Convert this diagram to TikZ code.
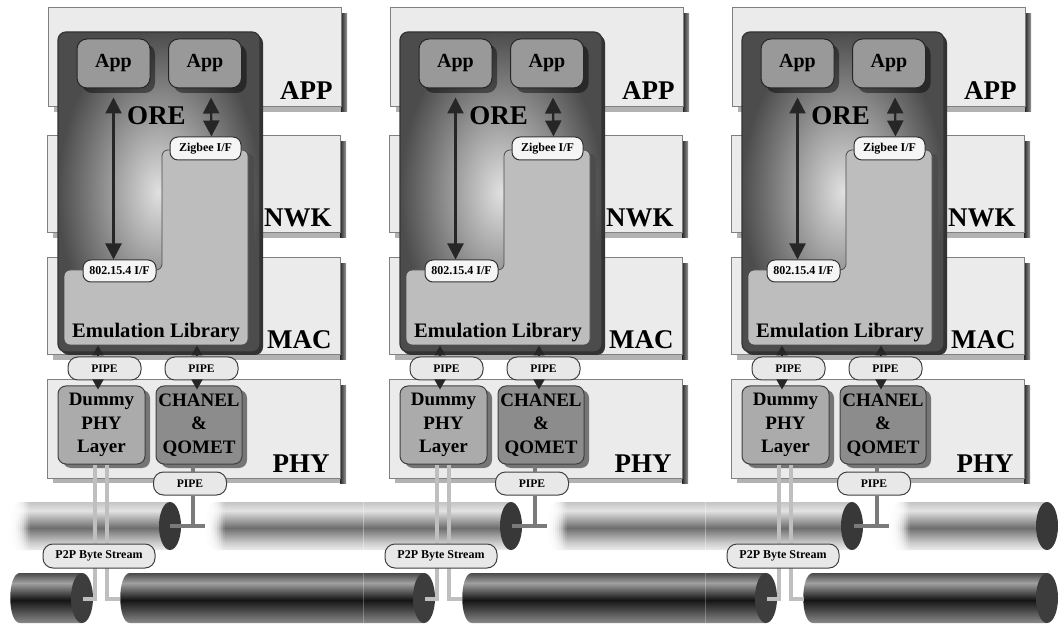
\documentclass[tikz,border=0pt]{standalone}
\usepackage{fontspec}
\setmainfont{Liberation Serif}
\usetikzlibrary{arrows.meta,shadows,calc}
\definecolor{uA}{gray}{0.93}
\definecolor{uB}{gray}{0.79}
\definecolor{uC}{gray}{0.43}
\definecolor{uD}{gray}{0.89}
\definecolor{uE}{gray}{0.77}
\definecolor{dA}{gray}{0.54}
\definecolor{dB}{gray}{0.38}
\definecolor{dC}{gray}{0.08}
\definecolor{dD}{gray}{0.63}
\definecolor{dE}{gray}{0.29}
\pgfdeclareverticalshading{upcyl}{100bp}{color(0bp)=(uA); color(25bp)=(uA); color(33bp)=(uB); color(48bp)=(uC); color(66bp)=(uD); color(75bp)=(uE); color(100bp)=(uE)}
\pgfdeclareverticalshading{lowcyl}{100bp}{color(0bp)=(dA); color(25bp)=(dA); color(33bp)=(dB); color(48bp)=(dC); color(65bp)=(dD); color(75bp)=(dE); color(100bp)=(dE)}
\begin{document}
\begin{tikzpicture}[x=0.5pt,y=-0.5pt,
  font=\bfseries,
  layerbox/.style={fill=black!8,draw=black!50,line width=0.5pt},
  layerlabel/.style={font=\fontsize{13.5}{14}\selectfont\bfseries,inner sep=0pt,anchor=base east},
  appbox/.style={draw=black!85,line width=0.5pt,fill=black!40,rounded corners=5pt,minimum width=36.5pt,minimum height=24.5pt,inner sep=0pt,font=\fontsize{10}{12}\selectfont\bfseries,drop shadow={shadow xshift=2.5pt,shadow yshift=-2.5pt,fill=black,opacity=0.45}},
  iface/.style={draw=black!80,line width=0.5pt,fill=black!4,rounded corners=4pt,inner sep=0pt,font=\fontsize{6}{7}\selectfont\bfseries},
  pipebox/.style={draw=black!75,line width=0.5pt,fill=black!9,rounded corners=5pt,inner sep=0pt,minimum width=36.5pt,minimum height=11.5pt,font=\fontsize{5.8}{7}\selectfont\bfseries},
  p2pbox/.style={draw=black!75,line width=0.5pt,fill=black!9,rounded corners=5pt,inner sep=0pt,minimum width=56pt,minimum height=12pt,font=\fontsize{6}{7}\selectfont\bfseries},
  phybox/.style={draw=black!75,line width=0.5pt,rounded corners=4pt,inner sep=0pt,minimum width=43.5pt,minimum height=39pt,align=center,font=\fontsize{9.5}{11.75}\selectfont\bfseries,drop shadow={shadow xshift=2.5pt,shadow yshift=-2pt,fill=black,opacity=0.5}},
  bigarrow/.style={line width=1.1pt,draw=black!85,{Triangle[width=8pt,length=8pt]}-{Triangle[width=8pt,length=8pt]}},
  smallarrow/.style={line width=0.8pt,draw=black!85,-{Triangle[width=5.5pt,length=5pt]}},
  busdark/.style={draw=black!52,line width=2pt},
  buslight/.style={draw=black!25,line width=2pt}
]
\useasboundingbox (0,0) rectangle (1058,624);
\fill[white] (0,0) rectangle (1058,624);

\foreach \o/\s in {0/a,342/b,684/c}{
\begin{scope}[shift={(\o,0)}]
  \foreach \ya/\yb/\xa/\xb in {8/107/48/341,136/233/47/340,258/355/47/340,380/478/47/340}{
    \fill[black!30] (\xa+6,\yb) rectangle (\xb+6,\yb+5);
    \shade[left color=black!85,right color=black!40] (\xb,\ya+6) rectangle (\xb+6,\yb+5);
    \draw[layerbox] (\xa,\ya) rectangle (\xb,\yb);
  }
  \node[layerlabel] (lapp\s) at (333,100) {APP};
  \node[layerlabel] (lnwk\s) at (332,227) {NWK};
  \node[layerlabel] (lmac\s) at (332,349) {MAC};
  \node[layerlabel] (lphy\s) at (330,472) {PHY};
  % ORE container
  \fill[black!80,rounded corners=4pt] (61,35) rectangle (263,355);
  \shade[inner color=black!12,outer color=black!70,rounded corners=4pt,draw=black!80,line width=0.6pt] (58,32) rectangle (260,352);
  % inner L panel
  \fill[black!70,rounded corners=3pt] (167,154) -- (254,154) -- (254,348) -- (69,348) -- (69,274) -- (167,274) -- cycle;
  \draw[fill=black!26,draw=black!70,line width=0.4pt,rounded corners=3pt] (162,150) -- (248,150) -- (248,345) -- (64,345) -- (64,270) -- (162,270) -- cycle;
  \node[appbox] (appL\s) at (113.5,63.5) {App};
  \node[appbox] (appR\s) at (205,63.5) {App};
  \node[font=\fontsize{13.5}{14}\selectfont\bfseries,inner sep=0pt,anchor=base] (ore\s) at (156.5,125) {ORE};
  \node[iface,minimum width=35.5pt,minimum height=11.5pt] (zig\s) at (205.5,148.5) {Zigbee I/F};
  \node[iface,minimum width=36.5pt,minimum height=11pt] (ifm\s) at (119.5,271) {802.15.4 I/F};
  \node[font=\fontsize{10.3}{12}\selectfont\bfseries,inner sep=0pt,anchor=base] (emu\s) at (156,338) {Emulation Library};
  \draw[bigarrow] ([yshift=-4.5pt]appL\s.south) -- (appL\s.south |- ifm\s.north);
  \draw[bigarrow] ([xshift=3pt,yshift=-4.5pt]appR\s.south) -- ([xshift=3pt]zig\s.north);
  \node[pipebox] (pipeL\s) at (104.5,368.5) {PIPE};
  \node[pipebox] (pipeR\s) at (201.5,368.5) {PIPE};
  \node[phybox,fill=black!33] (dummy\s) at (101.5,425) {Dummy\\PHY\\Layer};
  \node[phybox,fill=black!45,minimum width=43pt] (chanel\s) at (199,425) {CHANEL\\\&\\QOMET};
  \node[pipebox] (pipeC\s) at (190,483.5) {PIPE};
  \draw[smallarrow] ([xshift=-3.25pt]pipeL\s.north) -- ++(0,-11);
  \draw[smallarrow] ([xshift=-2.25pt]pipeR\s.north) -- ++(0,-11);
  \draw[smallarrow] ([xshift=-3.25pt]pipeL\s.south) -- ([xshift=-3.25pt,yshift=-2pt]pipeL\s.south |- dummy\s.north);
  \draw[smallarrow] ([xshift=-2.25pt]pipeR\s.south) -- ([xshift=-2.25pt,yshift=-2pt]pipeR\s.south |- chanel\s.north);
\end{scope}
}

% cylinders, upper row
\foreach \a/\b in {10/170,205/511,547/852,890/1047}{
  \shade[shading=upcyl] (\a+10,502) -- (\b,502) -- (\b,550) -- (\a+10,550) .. controls (\a-3,550) and (\a-3,502) .. (\a+10,502) -- cycle;
  \foreach \k [evaluate=\k as \op using 0.92-0.09*\k] in {0,...,9}{
    \fill[white,opacity=\op] (\a+2*\k-4,501) rectangle (\a+2*\k+2,551);
  }
  \fill[black!78] (\b,526) ellipse [x radius=11,y radius=24];
}
% cylinders, lower row
\foreach \a/\b in {10/82,120/424,462/766,803/1047}{
  \shade[shading=lowcyl] (\a+10,573) -- (\b,573) -- (\b,623) -- (\a+10,623) .. controls (\a-3,623) and (\a-3,573) .. (\a+10,573) -- cycle;
  \fill[black!76] (\b,598) ellipse [x radius=11,y radius=25];
}
\foreach \x in {363,705}{
  \draw[white,opacity=0.35,line width=0.5pt] (\x,502) -- (\x,550);
  \draw[white,opacity=0.25,line width=0.5pt] (\x,573) -- (\x,623);
}

\foreach \o/\s in {0/a,342/b,684/c}{
\begin{scope}[shift={(\o,0)}]
  \coordinate (tap\s) at (193,526);
  \coordinate (capU\s) at (170,526);
  \coordinate (segU\s) at (205,526);
  \draw[busdark] (chanel\s.south -| tap\s) -- (pipeC\s.north -| tap\s);
  \draw[busdark] (pipeC\s.south -| tap\s) -- (tap\s);
  \draw[busdark] (capU\s) -- (segU\s);
  \coordinate (la\s) at (95,599);
  \coordinate (lae\s) at (83,599);
  \coordinate (lb\s) at (107,599);
  \coordinate (lbe\s) at (120,599);
  \draw[buslight] (dummy\s.south -| la\s) -- (la\s) -- (lae\s);
  \draw[buslight] (dummy\s.south -| lb\s) -- (lb\s) -- (lbe\s);
  \node[p2pbox] (p2p\s) at (99,556) {P2P Byte Stream};
\end{scope}
}
\end{tikzpicture}
\end{document}
